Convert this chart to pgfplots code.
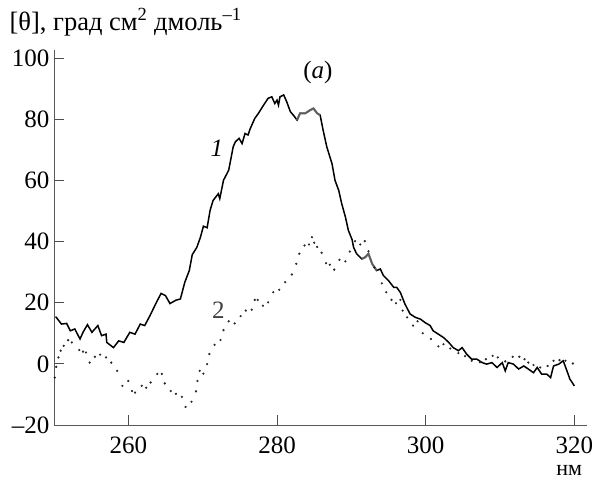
\documentclass[border=0pt]{standalone}
\usepackage{pgfplots}
\pgfplotsset{compat=1.18}
\usepackage{fontspec}
\setmainfont{Liberation Serif}
\begin{document}
\begin{tikzpicture}
\useasboundingbox (0,0) rectangle (594pt,486pt);
\begin{axis}[
  at={(54pt,61pt)}, anchor=south west,
  scale only axis, width=533pt, height=375pt,
  xmin=250, xmax=321.7, ymin=-20, ymax=102.6,
  axis lines*=left,
  axis line style={draw=black!65, line width=0.8pt},
  tick align=inside,
  major tick length=10pt,
  tick style={draw=black!70, line width=0.8pt},
  xtick={260,280,300,320},
  xticklabels={260,280,300,320},
  ytick={-20,0,20,40,60,80,100},
  yticklabels={–20,0,20,40,60,80,100},
  ticklabel style={font=\fontsize{25}{29}\selectfont},
  xticklabel style={yshift=-8pt},
  yticklabel style={xshift=-1pt},
  clip=false,
]
\addplot[black, line width=1.5pt] coordinates {
(250.2,15.4)(250.3,15.2)(251.0,13.0)(251.7,13.2)(252.2,10.8)(252.8,11.4)
(253.5,8.1)(253.9,10.3)(254.5,12.8)(255.1,10.3)(255.9,12.5)(256.4,9.2)
(257.0,9.7)(257.1,7.0)(258.0,5.3)(258.7,7.5)(259.4,7.0)(260.2,10.3)
(260.9,9.7)(261.6,13.0)(262.2,12.5)(262.9,15.7)(263.8,20.2)(264.4,23.0)
(265.0,22.3)(265.6,19.7)(266.4,20.8)(267.0,21.2)(267.6,26.7)(268.2,30.5)
(268.6,35.7)(269.2,38.0)(269.7,41.4)(270.1,45.0)(270.6,44.5)(271.0,50.2)
(271.4,53.4)(272.1,55.6)(272.3,54.0)(272.8,60.0)(273.5,63.3)(274.1,70.9)
(274.4,72.6)(274.9,73.7)(275.3,72.0)(275.7,75.3)(276.1,74.8)(276.4,76.9)
(277.0,80.2)(277.5,81.9)(278.2,84.6)(278.8,86.8)(279.3,87.3)(279.7,85.1)
(280.0,86.2)(280.2,84.6)(280.4,87.3)(280.9,87.9)(281.3,85.7)(281.8,82.4)
(282.2,81.3)(282.7,79.7)(283.1,81.9)(283.8,81.9)(284.5,83.0)(284.9,83.5)
(285.4,81.9)(285.8,81.3)(286.2,76.4)(286.7,70.9)(287.4,65.4)(287.8,60.0)
(288.3,56.7)(288.7,52.4)(289.2,48.0)(289.6,43.6)(290.1,40.6)(290.3,38.1)
(290.7,36.0)(291.4,34.3)(291.9,34.9)(292.3,36.0)(292.8,32.7)(293.4,30.5)
(293.9,31.0)(294.3,28.9)(295.0,27.2)(295.7,25.0)(296.1,25.0)(296.6,23.3)
(297.2,19.6)(297.9,16.3)(298.6,15.2)(299.3,14.6)(299.9,13.5)(300.6,12.5)
(301.0,10.8)(301.7,9.7)(302.4,8.6)(303.1,7.0)(303.7,5.3)(304.4,4.3)
(304.9,5.3)(305.5,3.2)(306.2,1.5)(306.9,1.5)(307.6,0.4)(308.2,-0.1)
(308.9,0.4)(309.6,-1.2)(310.3,0.4)(310.7,-2.3)(311.1,0.4)(311.8,-0.1)
(312.5,-1.7)(313.2,-0.7)(313.8,-1.7)(314.5,-2.9)(315.0,-1.2)(315.6,-3.4)
(316.3,-3.4)(316.8,-4.5)(317.2,-0.7)(317.9,-0.1)(318.5,1.0)(319.0,-2.3)
(319.4,-5.0)(320.0,-7.2)
};
\addplot[black!55, line width=2.2pt, opacity=0.8] coordinates {
(282.7,79.7)(283.1,81.9)(283.8,81.9)(284.5,83.0)(284.9,83.5)(285.4,81.9)(285.8,81.3)
};
\addplot[black!55, line width=2.2pt, opacity=0.8] coordinates {
(291.4,34.3)(291.9,34.9)(292.3,36.0)(292.8,32.7)(293.4,30.5)
};
\addplot[only marks, mark=*, mark size=0.9pt, black!85] coordinates {
(250.1,-4.5)(250.3,-1)(250.6,2.1)(250.9,4.3)(251.3,5.9)(251.9,7.7)(252.4,7)
(253.4,4.5)(253.9,4)(254.3,3.7)(254.8,0.4)(255.5,2.3)(256.2,3)(257.0,2.1)
(257.7,0.4)(258.5,-2.3)(259.2,-7.2)(260.0,-5.6)(260.5,-8.9)(260.9,-9.4)
(261.8,-7.2)(262.4,-7.8)(263.0,-6.1)(263.9,-3.3)(264.5,-3.3)(264.9,-6.4)
(265.7,-8.9)(266.4,-9.8)(267.2,-10.8)(267.7,-14.1)(268.5,-12.4)(269.1,-9)
(269.3,-5.6)(269.6,-2.3)(270.1,-3.2)(270.6,-0.1)(270.9,3.2)(271.6,6.2)
(272.4,7.8)(272.8,11)(273.5,13.9)(274.3,13.2)(275.1,15.6)(275.8,17.4)
(276.6,17.7)(277.0,20.9)(277.4,20.9)(278.1,19)(278.8,20.1)(279.5,23.4)
(280.3,24.2)(281.1,26.7)(282.0,29.2)(282.6,32.7)(283.0,36)(283.7,38.7)
(284.3,39)(284.7,41.4)(285.0,39.6)(285.4,38.2)(286.0,36.3)(286.6,32.9)
(287.1,32.4)(287.7,30.8)(288.4,34)(289.2,33.5)(289.8,36.7)(290.5,40.1)
(291.2,39)(291.8,40.1)(292.3,36.8)(293.1,31.5)(294.1,26.3)(294.7,23.4)
(295.4,20.9)(296.0,19.8)(296.6,20.9)(296.9,17.4)(297.5,15.2)(298.3,12.5)
(298.9,13.9)(299.6,10)(300.7,8.1)(301.7,5.7)(302.4,6.4)(303.3,5)
(304.4,3.5)(305.3,2.5)(306.2,1)(307.3,0.5)(308.1,1.5)(309.0,2.6)
(309.7,2.1)(310.7,0.8)(311.7,2.3)(312.6,2.3)(313.3,1.5)(313.8,0.4)
(314.5,-0.4)(315.4,-1.2)(316.4,-0.7)(317.2,1)(318.0,1.2)(318.8,1)(319.8,0.1)
};
\node[font=\fontsize{26.5}{31}\selectfont, anchor=base west, inner sep=0pt] at (rel axis cs:-0.0837,1.0533) {[θ], град см\textsuperscript{2} дмоль\textsuperscript{–1}};
\node[font=\fontsize{25}{29}\selectfont] at (axis cs:285.5,95.4) {(\textit{a})};
\node[font=\fontsize{25}{29}\selectfont] at (axis cs:271.9,70.5) {\textit{1}};
\node[font=\fontsize{25}{29}\selectfont, text=black!75] at (axis cs:272.1,17.4) {2};
\node[font=\fontsize{22}{26}\selectfont] at (axis cs:319.3,-35.0) {нм};
\end{axis}
\end{tikzpicture}
\end{document}
